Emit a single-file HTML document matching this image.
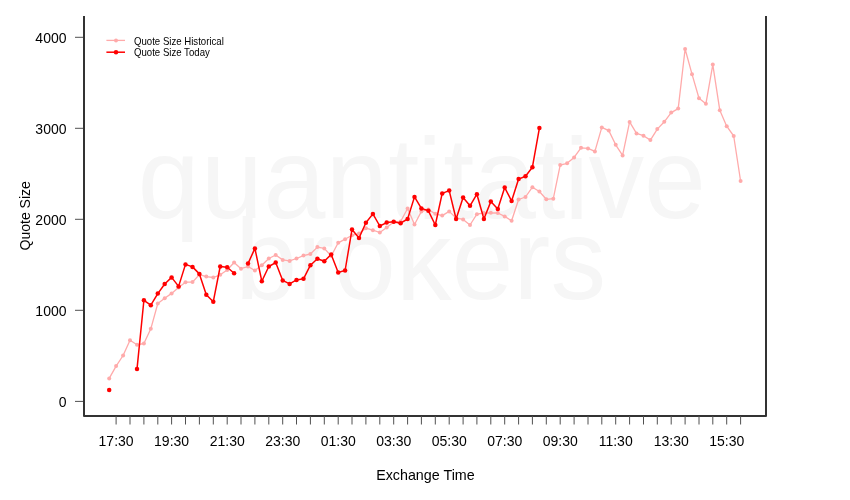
<!DOCTYPE html>
<html><head><meta charset="utf-8"><style>
html,body{margin:0;padding:0;background:#fff;}
svg{display:block;will-change:transform;font-family:"Liberation Sans",sans-serif;}
</style></head><body>
<svg width="850" height="500" viewBox="0 0 850 500">
<rect width="850" height="500" fill="#fff"/>
<g fill="#f6f6f6" font-size="100">
<text transform="translate(137.7,218) scale(1.112,1.15)" x="0.00 56.97 113.04 169.02 225.36 251.43 274.82 302.51 356.78 383.66 405.43 455.34">quantitative</text>
<text transform="translate(235.2,298.5) scale(1.112,1.15)">brokers</text>
</g>
<g stroke="#333333" stroke-width="2" fill="none">
<path d="M84 16 V416 H766 V16" stroke-linejoin="round"/>
</g>
<g stroke="#505050" stroke-width="1" ><line x1="116.1" y1="416" x2="116.1" y2="424.5"/><line x1="130.0" y1="416" x2="130.0" y2="424.5"/><line x1="143.9" y1="416" x2="143.9" y2="424.5"/><line x1="157.8" y1="416" x2="157.8" y2="424.5"/><line x1="171.6" y1="416" x2="171.6" y2="424.5"/><line x1="185.5" y1="416" x2="185.5" y2="424.5"/><line x1="199.4" y1="416" x2="199.4" y2="424.5"/><line x1="213.3" y1="416" x2="213.3" y2="424.5"/><line x1="227.2" y1="416" x2="227.2" y2="424.5"/><line x1="241.0" y1="416" x2="241.0" y2="424.5"/><line x1="254.9" y1="416" x2="254.9" y2="424.5"/><line x1="268.8" y1="416" x2="268.8" y2="424.5"/><line x1="282.7" y1="416" x2="282.7" y2="424.5"/><line x1="296.5" y1="416" x2="296.5" y2="424.5"/><line x1="310.4" y1="416" x2="310.4" y2="424.5"/><line x1="324.3" y1="416" x2="324.3" y2="424.5"/><line x1="338.2" y1="416" x2="338.2" y2="424.5"/><line x1="352.0" y1="416" x2="352.0" y2="424.5"/><line x1="365.9" y1="416" x2="365.9" y2="424.5"/><line x1="379.8" y1="416" x2="379.8" y2="424.5"/><line x1="393.7" y1="416" x2="393.7" y2="424.5"/><line x1="407.6" y1="416" x2="407.6" y2="424.5"/><line x1="421.4" y1="416" x2="421.4" y2="424.5"/><line x1="435.3" y1="416" x2="435.3" y2="424.5"/><line x1="449.2" y1="416" x2="449.2" y2="424.5"/><line x1="463.1" y1="416" x2="463.1" y2="424.5"/><line x1="476.9" y1="416" x2="476.9" y2="424.5"/><line x1="490.8" y1="416" x2="490.8" y2="424.5"/><line x1="504.7" y1="416" x2="504.7" y2="424.5"/><line x1="518.6" y1="416" x2="518.6" y2="424.5"/><line x1="532.4" y1="416" x2="532.4" y2="424.5"/><line x1="546.3" y1="416" x2="546.3" y2="424.5"/><line x1="560.2" y1="416" x2="560.2" y2="424.5"/><line x1="574.1" y1="416" x2="574.1" y2="424.5"/><line x1="588.0" y1="416" x2="588.0" y2="424.5"/><line x1="601.8" y1="416" x2="601.8" y2="424.5"/><line x1="615.7" y1="416" x2="615.7" y2="424.5"/><line x1="629.6" y1="416" x2="629.6" y2="424.5"/><line x1="643.5" y1="416" x2="643.5" y2="424.5"/><line x1="657.3" y1="416" x2="657.3" y2="424.5"/><line x1="671.2" y1="416" x2="671.2" y2="424.5"/><line x1="685.1" y1="416" x2="685.1" y2="424.5"/><line x1="699.0" y1="416" x2="699.0" y2="424.5"/><line x1="712.8" y1="416" x2="712.8" y2="424.5"/><line x1="726.7" y1="416" x2="726.7" y2="424.5"/><line x1="740.6" y1="416" x2="740.6" y2="424.5"/><line x1="75" y1="401.4" x2="83" y2="401.4"/><line x1="75" y1="310.3" x2="83" y2="310.3"/><line x1="75" y1="219.3" x2="83" y2="219.3"/><line x1="75" y1="128.3" x2="83" y2="128.3"/><line x1="75" y1="37.3" x2="83" y2="37.3"/></g>
<g font-size="14" fill="#000" text-anchor="middle"><text x="116.1" y="446">17:30</text><text x="171.6" y="446">19:30</text><text x="227.2" y="446">21:30</text><text x="282.7" y="446">23:30</text><text x="338.2" y="446">01:30</text><text x="393.7" y="446">03:30</text><text x="449.2" y="446">05:30</text><text x="504.7" y="446">07:30</text><text x="560.2" y="446">09:30</text><text x="615.7" y="446">11:30</text><text x="671.2" y="446">13:30</text><text x="726.7" y="446">15:30</text></g>
<g font-size="14" fill="#000" text-anchor="end"><text x="66.5" y="407.2">0</text><text x="66.5" y="316.1">1000</text><text x="66.5" y="225.1">2000</text><text x="66.5" y="134.1">3000</text><text x="66.5" y="43.1">4000</text></g>
<text x="425.4" y="479.6" font-size="14.3" text-anchor="middle">Exchange Time</text>
<text transform="translate(29.7,215.8) rotate(-90)" font-size="14" text-anchor="middle">Quote Size</text>
<g>
<path d="M109.2 378.4 L116.1 366.1 L123.1 355.5 L130.0 340.3 L137.0 344.8 L143.9 343.5 L150.8 328.8 L157.8 303.5 L164.7 298.3 L171.6 293.4 L178.6 287.4 L185.5 282.2 L192.5 282.1 L199.4 274.6 L206.3 276.6 L213.3 277.5 L220.2 274.8 L227.2 270.0 L234.1 262.5 L241.0 268.7 L248.0 266.5 L254.9 270.5 L261.8 265.2 L268.8 258.5 L275.7 255.0 L282.7 259.9 L289.6 260.9 L296.5 258.5 L303.5 255.6 L310.4 254.0 L317.4 247.1 L324.3 248.4 L331.2 256.0 L338.2 242.8 L345.1 239.2 L352.0 235.3 L359.0 233.6 L365.9 228.2 L372.9 230.2 L379.8 232.5 L386.7 227.5 L393.7 222.0 L400.6 221.5 L407.6 208.5 L414.5 224.5 L421.4 211.4 L428.4 209.6 L435.3 213.8 L442.2 215.6 L449.2 211.4 L456.1 218.0 L463.1 219.4 L470.0 225.0 L476.9 214.2 L483.9 213.0 L490.8 212.8 L497.8 213.0 L504.7 216.4 L511.6 220.8 L518.6 199.5 L525.5 197.0 L532.4 187.2 L539.4 191.5 L546.3 199.3 L553.3 198.7 L560.2 165.1 L567.1 163.3 L574.1 157.4 L581.0 147.8 L588.0 148.4 L594.9 151.4 L601.8 127.4 L608.8 130.6 L615.7 144.8 L622.6 155.4 L629.6 121.9 L636.5 133.4 L643.5 135.7 L650.4 140.1 L657.3 129.1 L664.3 121.8 L671.2 112.6 L678.2 108.6 L685.1 49.0 L692.0 74.2 L699.0 98.2 L705.9 103.8 L712.8 64.6 L719.8 110.3 L726.7 126.2 L733.7 136.0 L740.6 181.0" stroke="#ffaaaa" stroke-width="1.3" fill="none" stroke-linejoin="round"/>
<g fill="#ffaaaa"><circle cx="109.2" cy="378.4" r="2.0"/><circle cx="116.1" cy="366.1" r="2.0"/><circle cx="123.1" cy="355.5" r="2.0"/><circle cx="130.0" cy="340.3" r="2.0"/><circle cx="137.0" cy="344.8" r="2.0"/><circle cx="143.9" cy="343.5" r="2.0"/><circle cx="150.8" cy="328.8" r="2.0"/><circle cx="157.8" cy="303.5" r="2.0"/><circle cx="164.7" cy="298.3" r="2.0"/><circle cx="171.6" cy="293.4" r="2.0"/><circle cx="178.6" cy="287.4" r="2.0"/><circle cx="185.5" cy="282.2" r="2.0"/><circle cx="192.5" cy="282.1" r="2.0"/><circle cx="199.4" cy="274.6" r="2.0"/><circle cx="206.3" cy="276.6" r="2.0"/><circle cx="213.3" cy="277.5" r="2.0"/><circle cx="220.2" cy="274.8" r="2.0"/><circle cx="227.2" cy="270.0" r="2.0"/><circle cx="234.1" cy="262.5" r="2.0"/><circle cx="241.0" cy="268.7" r="2.0"/><circle cx="248.0" cy="266.5" r="2.0"/><circle cx="254.9" cy="270.5" r="2.0"/><circle cx="261.8" cy="265.2" r="2.0"/><circle cx="268.8" cy="258.5" r="2.0"/><circle cx="275.7" cy="255.0" r="2.0"/><circle cx="282.7" cy="259.9" r="2.0"/><circle cx="289.6" cy="260.9" r="2.0"/><circle cx="296.5" cy="258.5" r="2.0"/><circle cx="303.5" cy="255.6" r="2.0"/><circle cx="310.4" cy="254.0" r="2.0"/><circle cx="317.4" cy="247.1" r="2.0"/><circle cx="324.3" cy="248.4" r="2.0"/><circle cx="331.2" cy="256.0" r="2.0"/><circle cx="338.2" cy="242.8" r="2.0"/><circle cx="345.1" cy="239.2" r="2.0"/><circle cx="352.0" cy="235.3" r="2.0"/><circle cx="359.0" cy="233.6" r="2.0"/><circle cx="365.9" cy="228.2" r="2.0"/><circle cx="372.9" cy="230.2" r="2.0"/><circle cx="379.8" cy="232.5" r="2.0"/><circle cx="386.7" cy="227.5" r="2.0"/><circle cx="393.7" cy="222.0" r="2.0"/><circle cx="400.6" cy="221.5" r="2.0"/><circle cx="407.6" cy="208.5" r="2.0"/><circle cx="414.5" cy="224.5" r="2.0"/><circle cx="421.4" cy="211.4" r="2.0"/><circle cx="428.4" cy="209.6" r="2.0"/><circle cx="435.3" cy="213.8" r="2.0"/><circle cx="442.2" cy="215.6" r="2.0"/><circle cx="449.2" cy="211.4" r="2.0"/><circle cx="456.1" cy="218.0" r="2.0"/><circle cx="463.1" cy="219.4" r="2.0"/><circle cx="470.0" cy="225.0" r="2.0"/><circle cx="476.9" cy="214.2" r="2.0"/><circle cx="483.9" cy="213.0" r="2.0"/><circle cx="490.8" cy="212.8" r="2.0"/><circle cx="497.8" cy="213.0" r="2.0"/><circle cx="504.7" cy="216.4" r="2.0"/><circle cx="511.6" cy="220.8" r="2.0"/><circle cx="518.6" cy="199.5" r="2.0"/><circle cx="525.5" cy="197.0" r="2.0"/><circle cx="532.4" cy="187.2" r="2.0"/><circle cx="539.4" cy="191.5" r="2.0"/><circle cx="546.3" cy="199.3" r="2.0"/><circle cx="553.3" cy="198.7" r="2.0"/><circle cx="560.2" cy="165.1" r="2.0"/><circle cx="567.1" cy="163.3" r="2.0"/><circle cx="574.1" cy="157.4" r="2.0"/><circle cx="581.0" cy="147.8" r="2.0"/><circle cx="588.0" cy="148.4" r="2.0"/><circle cx="594.9" cy="151.4" r="2.0"/><circle cx="601.8" cy="127.4" r="2.0"/><circle cx="608.8" cy="130.6" r="2.0"/><circle cx="615.7" cy="144.8" r="2.0"/><circle cx="622.6" cy="155.4" r="2.0"/><circle cx="629.6" cy="121.9" r="2.0"/><circle cx="636.5" cy="133.4" r="2.0"/><circle cx="643.5" cy="135.7" r="2.0"/><circle cx="650.4" cy="140.1" r="2.0"/><circle cx="657.3" cy="129.1" r="2.0"/><circle cx="664.3" cy="121.8" r="2.0"/><circle cx="671.2" cy="112.6" r="2.0"/><circle cx="678.2" cy="108.6" r="2.0"/><circle cx="685.1" cy="49.0" r="2.0"/><circle cx="692.0" cy="74.2" r="2.0"/><circle cx="699.0" cy="98.2" r="2.0"/><circle cx="705.9" cy="103.8" r="2.0"/><circle cx="712.8" cy="64.6" r="2.0"/><circle cx="719.8" cy="110.3" r="2.0"/><circle cx="726.7" cy="126.2" r="2.0"/><circle cx="733.7" cy="136.0" r="2.0"/><circle cx="740.6" cy="181.0" r="2.0"/></g>
<path d="M137.0 369.1 L143.9 300.3 L150.8 305.2 L157.8 293.6 L164.7 284.0 L171.6 277.4 L178.6 286.4 L185.5 264.4 L192.5 266.9 L199.4 273.9 L206.3 294.8 L213.3 301.7 L220.2 266.5 L227.2 267.3 L234.1 273.2 M248.0 263.6 L254.9 248.4 L261.8 281.2 L268.8 266.5 L275.7 262.6 L282.7 280.4 L289.6 283.9 L296.5 279.9 L303.5 278.8 L310.4 265.2 L317.4 258.7 L324.3 261.2 L331.2 254.4 L338.2 272.4 L345.1 270.5 L352.0 229.5 L359.0 238.0 L365.9 222.8 L372.9 213.9 L379.8 226.0 L386.7 222.6 L393.7 221.8 L400.6 223.2 L407.6 219.0 L414.5 196.9 L421.4 208.4 L428.4 210.8 L435.3 225.0 L442.2 193.4 L449.2 190.6 L456.1 219.0 L463.1 197.4 L470.0 205.8 L476.9 194.2 L483.9 219.0 L490.8 201.6 L497.8 209.0 L504.7 187.6 L511.6 201.0 L518.6 179.1 L525.5 176.2 L532.4 167.2 L539.4 128.1" stroke="#ff0000" stroke-width="1.5" fill="none" stroke-linejoin="round"/>
<g fill="#ff0000"><circle cx="109.2" cy="389.9" r="2.25"/><circle cx="137.0" cy="369.1" r="2.25"/><circle cx="143.9" cy="300.3" r="2.25"/><circle cx="150.8" cy="305.2" r="2.25"/><circle cx="157.8" cy="293.6" r="2.25"/><circle cx="164.7" cy="284.0" r="2.25"/><circle cx="171.6" cy="277.4" r="2.25"/><circle cx="178.6" cy="286.4" r="2.25"/><circle cx="185.5" cy="264.4" r="2.25"/><circle cx="192.5" cy="266.9" r="2.25"/><circle cx="199.4" cy="273.9" r="2.25"/><circle cx="206.3" cy="294.8" r="2.25"/><circle cx="213.3" cy="301.7" r="2.25"/><circle cx="220.2" cy="266.5" r="2.25"/><circle cx="227.2" cy="267.3" r="2.25"/><circle cx="234.1" cy="273.2" r="2.25"/><circle cx="248.0" cy="263.6" r="2.25"/><circle cx="254.9" cy="248.4" r="2.25"/><circle cx="261.8" cy="281.2" r="2.25"/><circle cx="268.8" cy="266.5" r="2.25"/><circle cx="275.7" cy="262.6" r="2.25"/><circle cx="282.7" cy="280.4" r="2.25"/><circle cx="289.6" cy="283.9" r="2.25"/><circle cx="296.5" cy="279.9" r="2.25"/><circle cx="303.5" cy="278.8" r="2.25"/><circle cx="310.4" cy="265.2" r="2.25"/><circle cx="317.4" cy="258.7" r="2.25"/><circle cx="324.3" cy="261.2" r="2.25"/><circle cx="331.2" cy="254.4" r="2.25"/><circle cx="338.2" cy="272.4" r="2.25"/><circle cx="345.1" cy="270.5" r="2.25"/><circle cx="352.0" cy="229.5" r="2.25"/><circle cx="359.0" cy="238.0" r="2.25"/><circle cx="365.9" cy="222.8" r="2.25"/><circle cx="372.9" cy="213.9" r="2.25"/><circle cx="379.8" cy="226.0" r="2.25"/><circle cx="386.7" cy="222.6" r="2.25"/><circle cx="393.7" cy="221.8" r="2.25"/><circle cx="400.6" cy="223.2" r="2.25"/><circle cx="407.6" cy="219.0" r="2.25"/><circle cx="414.5" cy="196.9" r="2.25"/><circle cx="421.4" cy="208.4" r="2.25"/><circle cx="428.4" cy="210.8" r="2.25"/><circle cx="435.3" cy="225.0" r="2.25"/><circle cx="442.2" cy="193.4" r="2.25"/><circle cx="449.2" cy="190.6" r="2.25"/><circle cx="456.1" cy="219.0" r="2.25"/><circle cx="463.1" cy="197.4" r="2.25"/><circle cx="470.0" cy="205.8" r="2.25"/><circle cx="476.9" cy="194.2" r="2.25"/><circle cx="483.9" cy="219.0" r="2.25"/><circle cx="490.8" cy="201.6" r="2.25"/><circle cx="497.8" cy="209.0" r="2.25"/><circle cx="504.7" cy="187.6" r="2.25"/><circle cx="511.6" cy="201.0" r="2.25"/><circle cx="518.6" cy="179.1" r="2.25"/><circle cx="525.5" cy="176.2" r="2.25"/><circle cx="532.4" cy="167.2" r="2.25"/><circle cx="539.4" cy="128.1" r="2.25"/></g>
</g>
<g font-size="10.5">
<line x1="106.4" y1="40.4" x2="125" y2="40.4" stroke="#ffaaaa" stroke-width="1.3"/>
<circle cx="116" cy="40.4" r="2.0" fill="#ffaaaa"/>
<line x1="106.4" y1="52.2" x2="125" y2="52.2" stroke="#ff0000" stroke-width="1.5"/>
<circle cx="116" cy="52.2" r="2.25" fill="#ff0000"/>
<text transform="translate(134,44.5) scale(0.918,1)">Quote Size Historical</text>
<text transform="translate(134,56.3) scale(0.918,1)">Quote Size Today</text>
</g>
</svg>
</body></html>
